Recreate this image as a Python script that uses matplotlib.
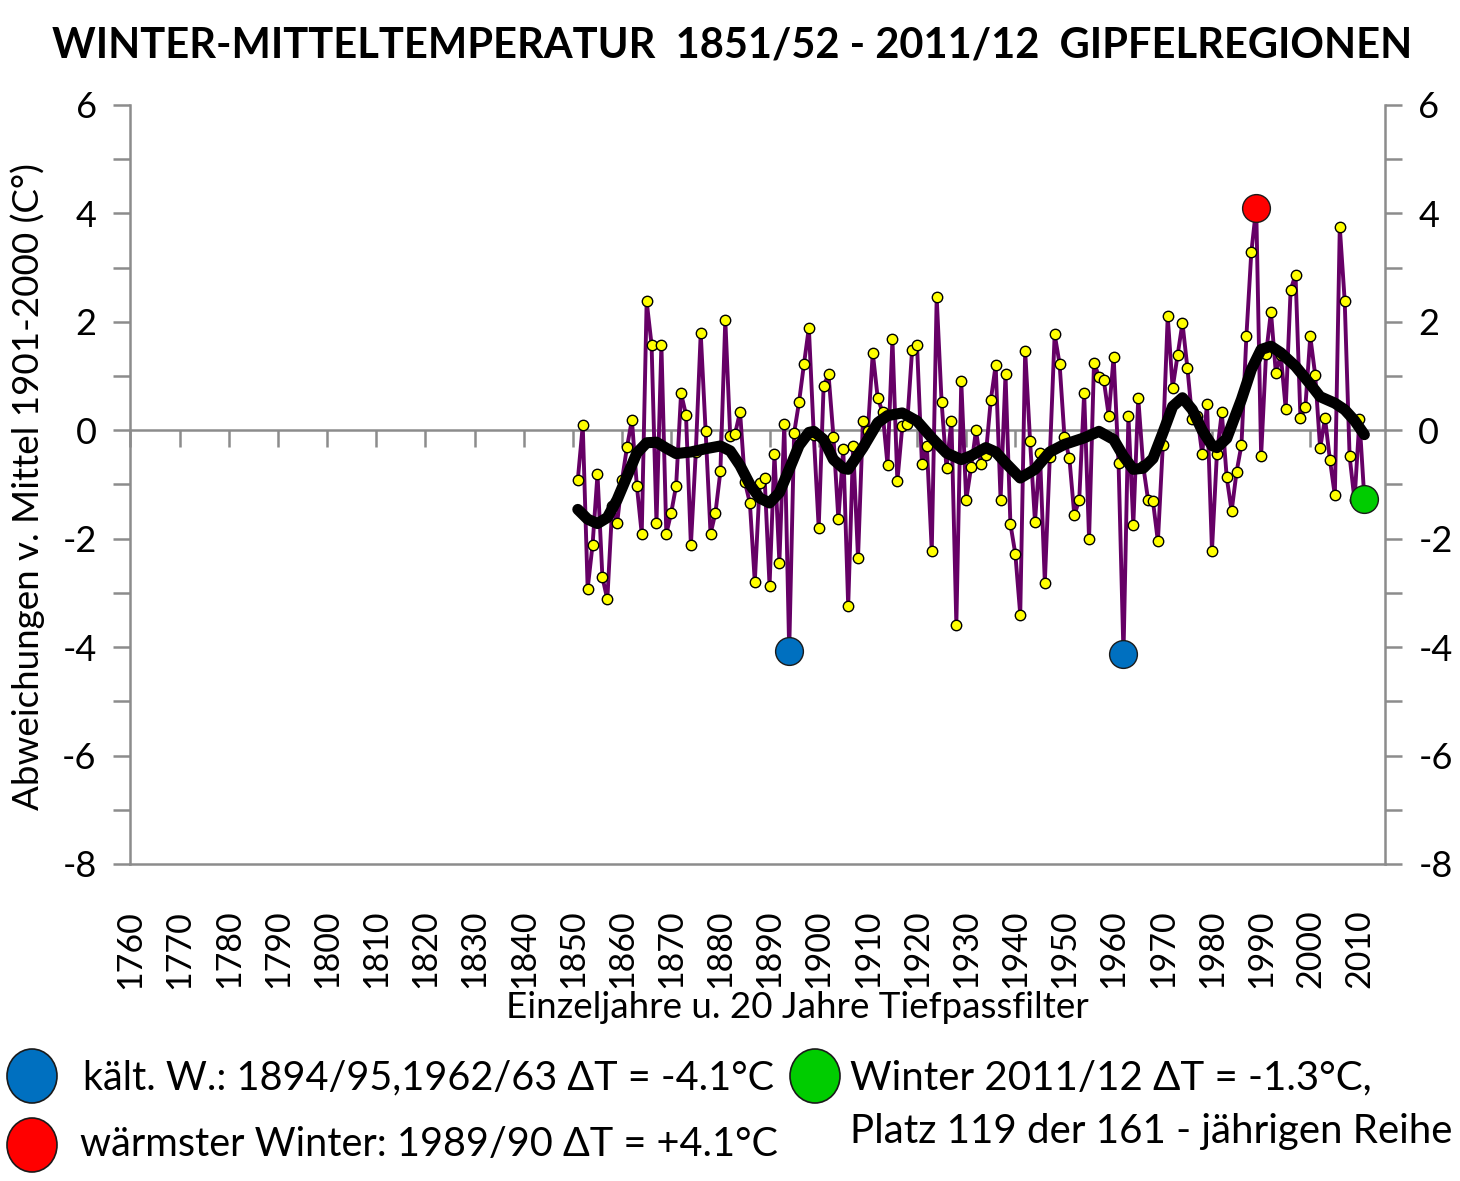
import numpy as np
import matplotlib
matplotlib.use('Agg')
import matplotlib.pyplot as plt
from matplotlib.ticker import MultipleLocator
from matplotlib.patches import Ellipse

# ── data: winter anomalies vs. 1901-2000 mean, winters 1851/52 .. 2011/12 ────
YEARS = np.arange(1851, 2012)
ANOMALY = [
    -0.91, 0.09, -2.92, -2.11, -0.81, -2.71, -3.12, -1.40, -1.71, -0.91,   # 1851-1860
    -0.31, 0.19, -1.02, -1.91, 2.38, 1.58, -1.71, 1.58, -1.91, -1.52,      # 1861-1870
    -1.02, 0.68, 0.29, -2.12, -0.40, 1.79, -0.02, -1.91, -1.52, -0.76,     # 1871-1880
    2.04, -0.11, -0.06, 0.34, -0.96, -1.34, -2.80, -0.98, -0.88, -2.87,    # 1881-1890
    -0.44, -2.44, 0.12, -4.07, -0.05, 0.52, 1.22, 1.89, -0.09, -1.80,      # 1891-1900
    0.82, 1.03, -0.12, -1.64, -0.34, -3.25, -0.29, -2.36, 0.18, -0.02,     # 1901-1910
    1.43, 0.60, 0.33, -0.64, 1.68, -0.94, 0.07, 0.12, 1.48, 1.58,          # 1911-1920
    -0.62, -0.29, -2.22, 2.45, 0.52, -0.70, 0.18, -3.59, 0.91, -1.29,      # 1921-1930
    -0.68, 0.00, -0.63, -0.45, 0.55, 1.20, -1.28, 1.03, -1.73, -2.28,      # 1931-1940
    -3.40, 1.47, -0.20, -1.69, -0.41, -2.81, -0.50, 1.77, 1.23, -0.13,     # 1941-1950
    -0.52, -1.57, -1.28, 0.69, -2.01, 1.25, 0.99, 0.92, 0.27, 1.36,        # 1951-1960
    -0.61, -4.13, 0.27, -1.75, 0.60, -0.65, -1.28, -1.31, -2.05, -0.28,    # 1961-1970
    2.10, 0.78, 1.38, 1.98, 1.15, 0.20, 0.27, -0.43, 0.48, -2.22,          # 1971-1980
    -0.44, 0.33, -0.87, -1.49, -0.77, -0.27, 1.73, 3.28, 4.10, -0.47,      # 1981-1990
    1.40, 2.19, 1.05, 1.39, 0.40, 2.59, 2.87, 0.22, 0.43, 1.73,            # 1991-2000
    1.02, -0.33, 0.22, -0.55, -1.20, 3.75, 2.39, -0.48, -1.29, 0.20,       # 2001-2010
    -1.26,                                                                  # 2011
]

# 20-year low-pass filter
FILTER_YEARS = [1851, 1853, 1855, 1857, 1859, 1861, 1863, 1865, 1867, 1869,
                1871, 1874, 1877, 1880, 1882, 1884, 1886, 1888, 1890, 1892,
                1894, 1896, 1898, 1899, 1901, 1903, 1905, 1906, 1909, 1912,
                1914, 1917, 1920, 1923, 1926, 1929, 1931, 1934, 1936, 1938,
                1941, 1944, 1947, 1950, 1954, 1957, 1960, 1962, 1964, 1966,
                1968, 1970, 1972, 1974, 1976, 1978, 1980, 1981, 1983, 1986,
                1988, 1990, 1992, 1994, 1997, 2000, 2002, 2005, 2007, 2009,
                2011]
FILTER_VALUES = [-1.46, -1.64, -1.72, -1.61, -1.28, -0.85, -0.42, -0.23, -0.22, -0.33,
                 -0.43, -0.40, -0.34, -0.29, -0.38, -0.65, -1.00, -1.25, -1.34, -1.15,
                 -0.72, -0.28, -0.04, -0.02, -0.17, -0.54, -0.70, -0.72, -0.32, 0.14,
                 0.27, 0.32, 0.17, -0.14, -0.42, -0.54, -0.47, -0.32, -0.40, -0.60,
                 -0.88, -0.72, -0.40, -0.26, -0.14, -0.02, -0.17, -0.48, -0.72, -0.70,
                 -0.52, -0.05, 0.44, 0.60, 0.38, 0.00, -0.28, -0.32, -0.15, 0.57,
                 1.12, 1.49, 1.55, 1.43, 1.18, 0.85, 0.62, 0.50, 0.38, 0.18,
                 -0.08]

COLD_YEARS = [1894, 1962]
WARM_YEAR = 1989
LAST_YEAR = 2011

TITLE = 'WINTER-MITTELTEMPERATUR  1851/52 - 2011/12  GIPFELREGIONEN'
YLABEL = 'Abweichungen v. Mittel 1901-2000 (C°)'
XLABEL = 'Einzeljahre u. 20 Jahre Tiefpassfilter'
LEG_COLD = 'kält. W.: 1894/95,1962/63 ΔT = -4.1°C'
LEG_WARM = 'wärmster Winter: 1989/90 ΔT = +4.1°C'
LEG_LAST_1 = 'Winter 2011/12 ΔT = -1.3°C,'
LEG_LAST_2 = 'Platz 119 der 161 - jährigen Reihe'

GRAY = '#8c8c8c'
PURPLE = '#660066'
BLUE = '#0070C0'
RED = '#FF0000'
GREEN = '#00CC00'

plt.rcParams['font.family'] = ['Lato', 'DejaVu Sans']
plt.rcParams['axes.unicode_minus'] = False

W, H = 1460, 1181
fig = plt.figure(figsize=(W / 100, H / 100), dpi=100)
ax = fig.add_axes([130 / W, 1 - 864 / H, 1255 / W, 759 / H])

anom = dict(zip(YEARS, ANOMALY))

# ── series ───────────────────────────────────────────────────────────────────
ax.plot(YEARS, ANOMALY, color=PURPLE, lw=2.8, zorder=3,
        marker='o', ms=7.5, mfc='#FFFF00', mec='black', mew=1.0)
ax.plot(FILTER_YEARS, FILTER_VALUES, color='black', lw=8, zorder=4,
        solid_capstyle='round', solid_joinstyle='round')
ax.plot(COLD_YEARS, [anom[y] for y in COLD_YEARS], 'o', ms=20,
        mfc=BLUE, mec='#1a1a1a', mew=1.0, zorder=5)
ax.plot([WARM_YEAR], [anom[WARM_YEAR]], 'o', ms=20,
        mfc=RED, mec='#1a1a1a', mew=1.0, zorder=5)
ax.plot([LAST_YEAR], [anom[LAST_YEAR]], 'o', ms=20,
        mfc=GREEN, mec='#1a1a1a', mew=1.0, zorder=5)

# ── axes ─────────────────────────────────────────────────────────────────────
ax.set_xlim(1759.9, 2015.2)
ax.set_ylim(-8, 6)

for side in ['left', 'right', 'bottom']:
    ax.spines[side].set_color(GRAY)
    ax.spines[side].set_linewidth(1.8)
ax.spines['top'].set_visible(False)
ax.spines['bottom'].set_position(('data', 0))

ax.xaxis.set_major_locator(MultipleLocator(10))
ax.tick_params(axis='x', direction='out', length=12, width=1.8, color=GRAY,
               labelbottom=False)

ax.yaxis.set_major_locator(MultipleLocator(2))
ax.yaxis.set_minor_locator(MultipleLocator(1))
ax.tick_params(axis='y', which='both', direction='out', length=12, width=1.8,
               color=GRAY, labelsize=26, pad=12, right=True, labelright=True)

# category labels under the plot
sec = ax.secondary_xaxis('bottom')
sec.xaxis.set_major_locator(MultipleLocator(10))
sec.tick_params(length=0, labelsize=24.5, labelrotation=90, pad=33)
sec.spines['bottom'].set_color(GRAY)
sec.spines['bottom'].set_linewidth(1.8)

fig.text(797 / W, 1 - 1007 / H, XLABEL, ha='center', va='center', fontsize=26.5)
fig.text(28 / W, 1 - 487 / H, YLABEL, ha='center', va='center',
         rotation=90, fontsize=26.5)
fig.text(732 / W, 1 - 45 / H, TITLE, ha='center', va='center',
         fontsize=30, fontweight='bold')

# ── legend texts ─────────────────────────────────────────────────────────────
def legend_dot(xc, yc, color):
    e = Ellipse((xc / W, 1 - yc / H), 50 / W, 54 / H, transform=fig.transFigure,
                facecolor=color, edgecolor='#1a1a1a', lw=1.2)
    fig.add_artist(e)

legend_dot(32, 1076, BLUE)
legend_dot(32, 1145, RED)
legend_dot(815, 1076, GREEN)
fig.text(83 / W, 1 - 1078 / H, LEG_COLD, ha='left', va='center', fontsize=28.5)
fig.text(80 / W, 1 - 1144 / H, LEG_WARM, ha='left', va='center', fontsize=28.5)
fig.text(850 / W, 1 - 1078 / H, LEG_LAST_1, ha='left', va='center', fontsize=29)
fig.text(850 / W, 1 - 1132 / H, LEG_LAST_2, ha='left', va='center', fontsize=29)

fig.savefig('out.png', dpi=100)
